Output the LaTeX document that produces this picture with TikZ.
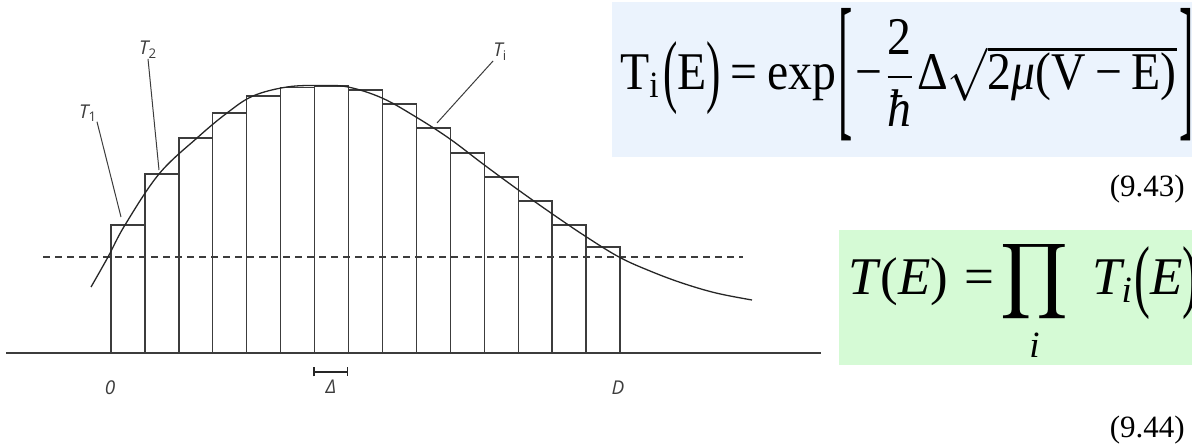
\documentclass[tikz,border=0pt]{standalone}
\usepackage{amsmath}
\usepackage{graphicx}
\usepackage{fontspec}
\setmainfont{Liberation Serif}
\newfontfamily\lblfont{Open Sans}
\usetikzlibrary{positioning,arrows.meta}
\definecolor{eqblue}{HTML}{EBF3FD}
\definecolor{eqgreen}{HTML}{D5FAD5}
\definecolor{inkgray}{HTML}{3C3C3C}
\newcommand{\tallparen}[1]{\raisebox{-0.14em}{\resizebox*{0.3em}{1.38em}{#1}}}
\newcommand{\tallbrack}[1]{\raisebox{-0.55em}{\resizebox*{0.3em}{2.5em}{#1}}}

\begin{document}
\begin{tikzpicture}[
    x=1pt, y=-1pt,
    bar/.style = {draw=inkgray, line width=1.3pt},
    lbl/.style = {font=\lblfont\itshape\fontsize{19}{22}\selectfont, inner sep=0pt, text=inkgray},
    leader/.style = {draw=inkgray, line width=1pt},
    eqn/.style = {anchor=base west, inner sep=0pt, font=\fontsize{10}{12}\selectfont},
    eqnum/.style = {anchor=base east, inner sep=0pt, font=\fontsize{31}{36}\selectfont}
]
\useasboundingbox (0,0) rectangle (1192,446);
\clip (0,0) rectangle (1192,446);

% --- Equation panels ---
\fill[eqblue] (612,2) rectangle (1192,157);
\fill[eqgreen] (839,230) rectangle (1192,365);
\node[eqn] (eqTi) at (620,90)
  {\scalebox{4.77}[5.3]{T\textsubscript{i}\hspace{0.05em}\tallparen{(}E\tallparen{)}\hspace{0.2em}=\hspace{0.2em}exp\hspace{0.05em}\tallbrack{[}\hspace{0.05em}−$\displaystyle\frac{\text{2}}{\textit{ħ}}$Δ$\sqrt{\text{2\textit{μ}(V\hspace{0.2em}−\hspace{0.2em}E)}}$\hspace{0.05em}\tallbrack{]}}};
\node[eqnum] (numA) at (1185,197) {(9.43)};
\node[eqn] (eqT) at (848,295)
  {\scalebox{5.3}{\textit{T}(\textit{E})\hspace{0.3em}=\hspace{0.12em}$\displaystyle\prod_{\textit{i}}$\hspace{0.45em}\textit{T\textsubscript{i}}\tallparen{(}\textit{E}\tallparen{)}}};
\node[eqnum] (numB) at (1185,437) {(9.44)};

% --- Barrier slices ---
\foreach \h [count=\i from 0] in {225,174,138,113,96,87.5,86,90,104,128,153,177,201,225,247}
  \draw[bar] ({111+33.93*\i},353) rectangle ({144.93+33.93*\i},\h);

% --- Energy level, axis and potential ---
\draw[inkgray, line width=1.1pt, dash pattern=on 7pt off 5pt] (43,257) -- (743,257);
\draw[inkgray, line width=1.3pt] (6,353) -- (821,353);
\draw[black!85, line width=1.3pt] plot[smooth, tension=0.6] coordinates {
  (91,287) (108,257) (125,225) (159,174) (197,138) (227,113) (253,96)
  (287,87) (320,85.5) (348,87) (382,98) (416,117) (450,139) (483,164)
  (517,189) (551,213) (585,236) (619,257) (650,271) (682,283) (716,293) (752,300)};

% --- Slice labels ---
\node[lbl] (T1) at (88,113) {T\textsubscript{\upshape 1}};
\node[lbl] (T2) at (148,50) {T\textsubscript{\upshape 2}};
\node[lbl] (Ti) at (500,52) {T\textsubscript{\upshape i}};
\coordinate (t1tip) at (121,217);
\coordinate (t2tip) at (159,170);
\coordinate (titip) at (437,123);
\draw[leader] (T1.south east) -- (t1tip);
\draw[leader] (T2.south) -- (t2tip);
\draw[leader] (Ti.south west) -- (titip);

% --- Axis marks ---
\node[lbl] (zero) at (110,388) {0};
\node[lbl] (dlt) at (331,387) {Δ};
\node[lbl] (dd) at (618,388) {D};
\coordinate (wl) at (313,372);
\coordinate (wr) at (348,372);
\draw[black!85, line width=1.5pt, {Bar[width=9pt]}-{Bar[width=9pt]}] (wl) -- (wr);

\end{tikzpicture}
\end{document}
